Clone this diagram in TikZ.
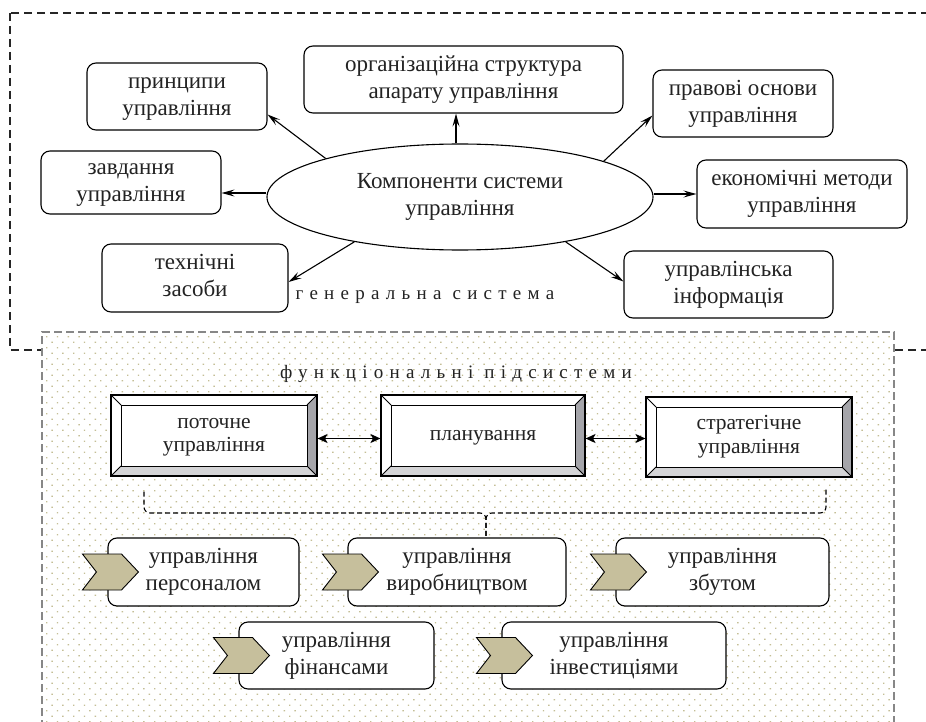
\documentclass[tikz,border=0pt]{standalone}
\usepackage{fontspec}
\setmainfont{Liberation Serif}
\newfontfamily\spacedfont[LetterSpace=33]{Liberation Serif}
\usetikzlibrary{shapes.geometric,arrows.meta}
\definecolor{chevcol}{RGB}{198,191,156}
\definecolor{dotcol}{RGB}{196,190,150}
\definecolor{bevdark}{RGB}{165,165,170}
\definecolor{bevlight}{RGB}{212,212,214}
\definecolor{regionborder}{RGB}{135,135,135}
\definecolor{txt}{RGB}{35,35,35}
\newcommand\mklines[1]{\begin{tabular}{@{}c@{}}\rule{0pt}{\dimexpr0.7\baselineskip+5.5pt\relax}#1\end{tabular}}
\newcommand\chevronat[1]{\filldraw[fill=chevcol, line width=0.9pt, line join=miter] ([shift={(-25pt,18pt)}]#1.west) -- ++(39pt,0pt) -- ++(17pt,-18pt) -- ++(-17pt,-18pt) -- ++(-39pt,0pt) -- ++(14pt,18pt) -- cycle;}
\begin{document}
\begin{tikzpicture}[x=1pt,y=-1pt,
  every node/.style={font=\fontsize{23}{27}\selectfont, text=txt},
  rbox/.style={draw, rounded corners=9pt, fill=white, line width=1.1pt, inner sep=0pt},
  bevelbox/.style={draw, fill=white, line width=1.1pt, inner sep=0pt,
    font=\fontsize{21.5}{23.5}\selectfont,
    path picture={
      \path (path picture bounding box.north west) coordinate (bnw)
            (path picture bounding box.north east) coordinate (bne)
            (path picture bounding box.south west) coordinate (bsw)
            (path picture bounding box.south east) coordinate (bse);
      \fill[bevdark] (bne) -- ([shift={(-10pt,-10pt)}]bne) -- ([shift={(-10pt,10pt)}]bse) -- (bse) -- cycle;
      \fill[bevlight] (bse) -- ([shift={(-10pt,10pt)}]bse) -- ([shift={(10pt,10pt)}]bsw) -- (bsw) -- cycle;
      \draw[line width=1pt] ([shift={(10pt,-10pt)}]bnw) rectangle ([shift={(-10pt,10pt)}]bse);
      \draw[line width=0.8pt] (bnw) -- ([shift={(10pt,-10pt)}]bnw)
            (bne) -- ([shift={(-10pt,-10pt)}]bne)
            (bsw) -- ([shift={(10pt,10pt)}]bsw)
            (bse) -- ([shift={(-10pt,10pt)}]bse);
    }},
  arr/.style={line width=1.1pt, -{Stealth[length=13pt,width=7pt,inset=5pt]}},
  darr/.style={line width=1.6pt, {Stealth[length=10pt,width=9pt,inset=2.5pt]}-{Stealth[length=10pt,width=9pt,inset=2.5pt]}},
  conn/.style={line width=1.1pt, dash pattern=on 5pt off 3pt, rounded corners=6pt},
  spaced/.style={font=\spacedfont\fontsize{19}{22}\selectfont}
]
\useasboundingbox (0,0) rectangle (926,722);
\fill[white] (0,0) rectangle (926,722);

% general system frame
\draw[line width=1.3pt, black!85, dash pattern=on 8pt off 5pt] (10,13) rectangle (945,350);

% functional subsystems region
\fill[white] (42,332) rectangle (894,735);
\fill[dotcol]
  \foreach \yy in {336,347,...,722} { \foreach \xx in {46,56.8,...,890} { (\xx,\yy) rectangle ++(1.4pt,-1.4pt) } }
  \foreach \yy in {341.5,352.5,...,722} { \foreach \xx in {51.4,62.2,...,890} { (\xx,\yy) rectangle ++(1.4pt,-1.4pt) } };
\draw[line width=1.3pt, regionborder, dash pattern=on 8pt off 4pt] (42,740) -- (42,332) -- (894,332) -- (894,740);

% central ellipse
\node[ellipse, draw, line width=1.1pt, fill=white, minimum width=386pt, minimum height=106pt, inner sep=0pt, align=center] (ell) at (460,197) {Компоненти системи\\управління};

% top nodes
\node[rbox, minimum width=180pt, minimum height=67pt] (princ) at (177,96.5) {\mklines{принципи\\управління}};
\node[rbox, minimum width=180pt, minimum height=63pt] (zavd) at (131,182.5) {\mklines{завдання\\управління}};
\node[rbox, minimum width=186pt, minimum height=68pt] (tech) at (195,278) {\mklines{технічні\\засоби}};
\node[rbox, minimum width=319pt, minimum height=67pt] (org) at (463.5,79.5) {\mklines{організаційна структура\\апарату управління}};
\node[rbox, minimum width=180pt, minimum height=67pt] (prav) at (743,103.5) {\mklines{правові основи\\управління}};
\node[rbox, minimum width=210pt, minimum height=68pt] (econ) at (802,194) {\mklines{економічні методи\\управління}};
\node[rbox, minimum width=209pt, minimum height=67pt] (upr) at (728.5,284.5) {\mklines{управлінська\\інформація}};

\node[spaced] (gen) at (425,297) {генеральна система};

% arrows from ellipse
\coordinate (orgstart) at ([xshift=-4pt]ell.north);
\draw[arr] (ell.164.5) -- ([yshift=-18pt]princ.east);
\draw[arr] ([yshift=4pt]ell.west) -- ([yshift=4pt]ell.west -| zavd.east);
\draw[arr] (ell.203.6) -- ([yshift=-4pt]tech.east);
\draw[arr] (orgstart) -- (orgstart |- org.south);
\draw[arr] (ell.14.6) -- ([yshift=-12pt]prav.west);
\draw[arr] (ell.east |- econ.west) -- (econ.west);
\draw[arr] (ell.337.6) -- ([yshift=3pt]upr.west);

% functional subsystems
\node[spaced] (func) at (456,374) {функціональні підсистеми};

\node[bevelbox, minimum width=206pt, minimum height=81pt] (p1) at (214,435.5) {\mklines{поточне\\управління}};
\node[bevelbox, minimum width=204pt, minimum height=81pt] (p2) at (483,435.5) {\mklines{планування}};
\node[bevelbox, minimum width=206pt, minimum height=80pt] (p3) at (749,437) {\mklines{стратегічне\\управління}};

\draw[darr] ([yshift=-3pt]p1.east) -- ([yshift=-3pt]p2.west);
\draw[darr] ([yshift=-3pt]p2.east) -- ([yshift=-3pt]p2.east -| p3.west);

% bottom boxes
\node[rbox, minimum width=191pt, minimum height=68pt] (b1) at (203.5,572) {\mklines{управління\\персоналом}};
\node[rbox, minimum width=218pt, minimum height=68pt] (b2) at (457,572) {\mklines{управління\\виробництвом}};
\node[rbox, minimum width=213pt, minimum height=68pt] (b3) at (722.5,572) {\mklines{управління\\збутом}};
\node[rbox, minimum width=195pt, minimum height=67pt] (b4) at (336.5,655.5) {\mklines{управління\\фінансами}};
\node[rbox, minimum width=224pt, minimum height=67pt] (b5) at (614,655.5) {\mklines{управління\\інвестиціями}};

\chevronat{b1}
\chevronat{b2}
\chevronat{b3}
\chevronat{b4}
\chevronat{b5}

% dashed connector
\coordinate (dl) at ([xshift=-70pt,yshift=-15pt]p1.south);
\coordinate (dr) at ([xshift=77pt,yshift=-12pt]p3.south);
\coordinate (jn) at (486,513);
\draw[conn] (dl) |- (jn) -- (jn |- b2.north);
\draw[conn] (dr) |- (jn) -- (jn |- b2.north);
\end{tikzpicture}
\end{document}
